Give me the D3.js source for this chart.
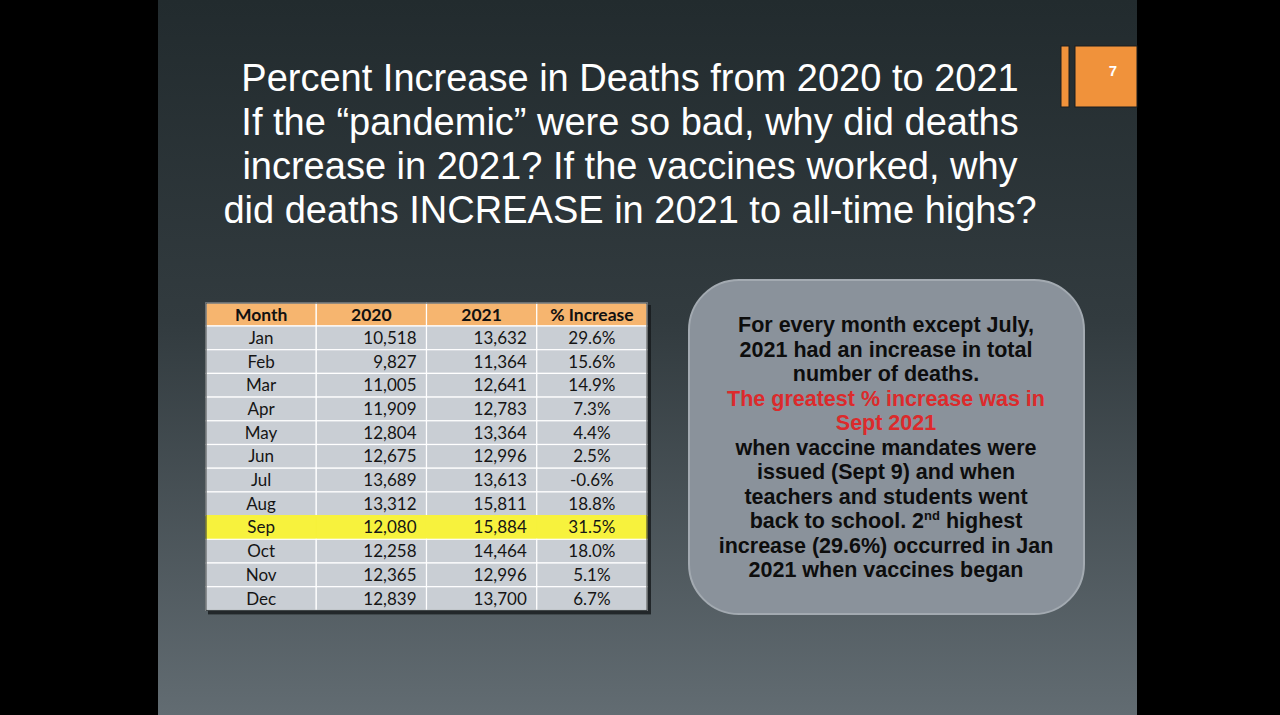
<!DOCTYPE html>
<html>
<head>
<meta charset="utf-8">
<script src="https://cdn.jsdelivr.net/npm/d3@7"></script>
<style>
  html, body { margin: 0; padding: 0; background: #000; }
  svg { display: block; }
</style>
</head>
<body>
<div id="slide"></div>
<script>
// table data
const months = ["Jan", "Feb", "Mar", "Apr", "May", "Jun", "Jul", "Aug", "Sep", "Oct", "Nov", "Dec"];
const deaths2020 = [10518, 9827, 11005, 11909, 12804, 12675, 13689, 13312, 12080, 12258, 12365, 12839];
const deaths2021 = [13632, 11364, 12641, 12783, 13364, 12996, 13613, 15811, 15884, 14464, 12996, 13700];
const pctIncrease = [29.6, 15.6, 14.9, 7.3, 4.4, 2.5, -0.6, 18.8, 31.5, 18.0, 5.1, 6.7];
const columns = ["Month", "2020", "2021", "% Increase"];
const highlightMonth = "Sep";

const titleLines = [
  "Percent Increase in Deaths from 2020 to 2021",
  "If the \u201cpandemic\u201d were so bad, why did deaths",
  "increase in 2021? If the vaccines worked, why",
  "did deaths INCREASE in 2021 to all-time highs?"
];
const slideNumber = "7";

const W = 1280, H = 715;

const svg = d3.select("#slide")
  .append("svg")
    .attr("width", W)
    .attr("height", H);

const defs = svg.append("defs");
const bg = defs.append("linearGradient")
    .attr("id", "bg")
    .attr("x1", 0).attr("y1", 0).attr("x2", 0).attr("y2", 1);
bg.append("stop").attr("offset", "0%").attr("stop-color", "#222b2e");
bg.append("stop").attr("offset", "45%").attr("stop-color", "#323b3f");
bg.append("stop").attr("offset", "100%").attr("stop-color", "#626c72");

// black letterbox + slide
svg.append("rect").attr("width", W).attr("height", H).attr("fill", "#000");
svg.append("rect")
    .attr("x", 158).attr("y", 0)
    .attr("width", 979).attr("height", H)
    .attr("fill", "url(#bg)");

// slide number badge
svg.append("rect")
    .attr("x", 1061).attr("y", 46).attr("width", 8).attr("height", 61)
    .attr("fill", "#f0923b").attr("stroke", "#1a1d1e").attr("stroke-width", 1);
svg.append("rect")
    .attr("x", 1075).attr("y", 46).attr("width", 62).attr("height", 61)
    .attr("fill", "#f0923b").attr("stroke", "#1a1d1e").attr("stroke-width", 1);
svg.append("text")
    .attr("x", 1113).attr("y", 76)
    .attr("text-anchor", "middle")
    .attr("font-family", "Liberation Sans, Arial, sans-serif")
    .attr("font-weight", "bold")
    .attr("font-size", 15)
    .attr("fill", "#fff")
    .text(slideNumber);

// title
svg.append("g")
  .selectAll("text")
  .data(titleLines)
  .join("text")
    .attr("x", 630)
    .attr("y", (d, i) => 91 + i * 44)
    .attr("text-anchor", "middle")
    .attr("font-family", "Liberation Sans, Arial, sans-serif")
    .attr("font-size", 38)
    .attr("fill", "#fff")
    .text(d => d);

/// TABLE ///
const table = {left: 206, top: 303, width: 441, headerH: 23};
const rowH = 23.7;

const x = d3.scaleBand()
  .domain(columns)
  .range([table.left, table.left + table.width]);

const y = d3.scaleBand()
  .domain(months)
  .range([table.top + table.headerH, table.top + table.headerH + rowH * months.length]);

const tableBottom = y.range()[1];

// drop shadow
svg.append("rect")
    .attr("x", table.left + 2).attr("y", table.top + 2)
    .attr("width", table.width + 2).attr("height", tableBottom - table.top + 2)
    .attr("fill", "#15191b").attr("opacity", 0.8);

const rows = months.map((m, i) => ({
  month: m,
  cells: [m, d3.format(",")(deaths2020[i]), d3.format(",")(deaths2021[i]), pctIncrease[i].toFixed(1) + "%"]
}));

const tg = svg.append("g");

// header
tg.selectAll("rect.head")
  .data(columns)
  .join("rect")
    .attr("class", "head")
    .attr("x", d => x(d)).attr("y", table.top)
    .attr("width", x.bandwidth()).attr("height", table.headerH)
    .attr("fill", "#f6b56f")
    .attr("stroke", "#fff").attr("stroke-width", 1.2);

tg.selectAll("text.head")
  .data(columns)
  .join("text")
    .attr("class", "head")
    .attr("x", d => x(d) + x.bandwidth() / 2)
    .attr("y", table.top + table.headerH / 2 + 6)
    .attr("text-anchor", "middle")
    .attr("font-family", "Lato, Open Sans, sans-serif")
    .attr("font-weight", "bold")
    .attr("font-size", 17.5)
    .attr("fill", "#111")
    .text(d => d);

// body rows
const rowG = tg.selectAll("g.row")
  .data(rows)
  .join("g")
    .attr("class", "row")
    .attr("transform", d => `translate(0, ${y(d.month)})`);

rowG.selectAll("rect")
  .data(d => d.cells.map((c, j) => ({col: columns[j], text: c, month: d.month})))
  .join("rect")
    .attr("x", d => x(d.col)).attr("y", 0)
    .attr("width", x.bandwidth()).attr("height", y.bandwidth())
    .attr("fill", d => d.month === highlightMonth ? "#f7f23d" : "#c9ced4")
    .attr("stroke", d => d.month === highlightMonth ? "#f7f23d" : "#fff")
    .attr("stroke-width", 1.2);

rowG.selectAll("text")
  .data(d => d.cells.map((c, j) => ({col: columns[j], j: j, text: c})))
  .join("text")
    .attr("x", d => (d.j === 1 || d.j === 2) ? x(d.col) + x.bandwidth() - 10 : x(d.col) + x.bandwidth() / 2)
    .attr("y", y.bandwidth() / 2 + 6)
    .attr("text-anchor", d => (d.j === 1 || d.j === 2) ? "end" : "middle")
    .attr("font-family", "Lato, Open Sans, sans-serif")
    .attr("font-size", 17)
    .attr("fill", "#151515")
    .text(d => d.text);

// outer border
tg.append("rect")
    .attr("x", table.left).attr("y", table.top)
    .attr("width", table.width).attr("height", tableBottom - table.top)
    .attr("fill", "none").attr("stroke", "#2c3235").attr("stroke-width", 1);

/// CALLOUT BOX ///
const box = {x: 689, y: 280, w: 395, h: 334, r: 50};
svg.append("rect")
    .attr("x", box.x).attr("y", box.y)
    .attr("width", box.w).attr("height", box.h)
    .attr("rx", box.r).attr("ry", box.r)
    .attr("fill", "#8a929b")
    .attr("stroke", "#a3aab1").attr("stroke-width", 2);

const calloutLines = [
  {t: "For every month except July,", red: false},
  {t: "2021 had an increase in total", red: false},
  {t: "number of deaths.", red: false},
  {t: "The greatest % increase was in", red: true},
  {t: "Sept 2021", red: true},
  {t: "when vaccine mandates were", red: false},
  {t: "issued (Sept 9) and when", red: false},
  {t: "teachers and students went", red: false},
  {t: "back to school. 2|nd| highest", red: false},
  {t: "increase (29.6%) occurred in Jan", red: false},
  {t: "2021 when vaccines began", red: false}
];

const ct = svg.append("g")
  .selectAll("text")
  .data(calloutLines)
  .join("text")
    .attr("x", 886)
    .attr("y", (d, i) => 332 + i * 24.5)
    .attr("text-anchor", "middle")
    .attr("font-family", "Liberation Sans, Arial, sans-serif")
    .attr("font-weight", "bold")
    .attr("font-size", 21.5)
    .attr("fill", d => d.red ? "#dc2a2c" : "#0d0d0d");

ct.each(function(d) {
  const parts = d.t.split("|");
  const el = d3.select(this);
  parts.forEach((p, k) => {
    const sp = el.append("tspan").text(p);
    if (k === 1) sp.attr("font-size", 13).attr("dy", -8);
    if (k === 2) sp.attr("dy", 8);
  });
});
</script>
</body>
</html>
